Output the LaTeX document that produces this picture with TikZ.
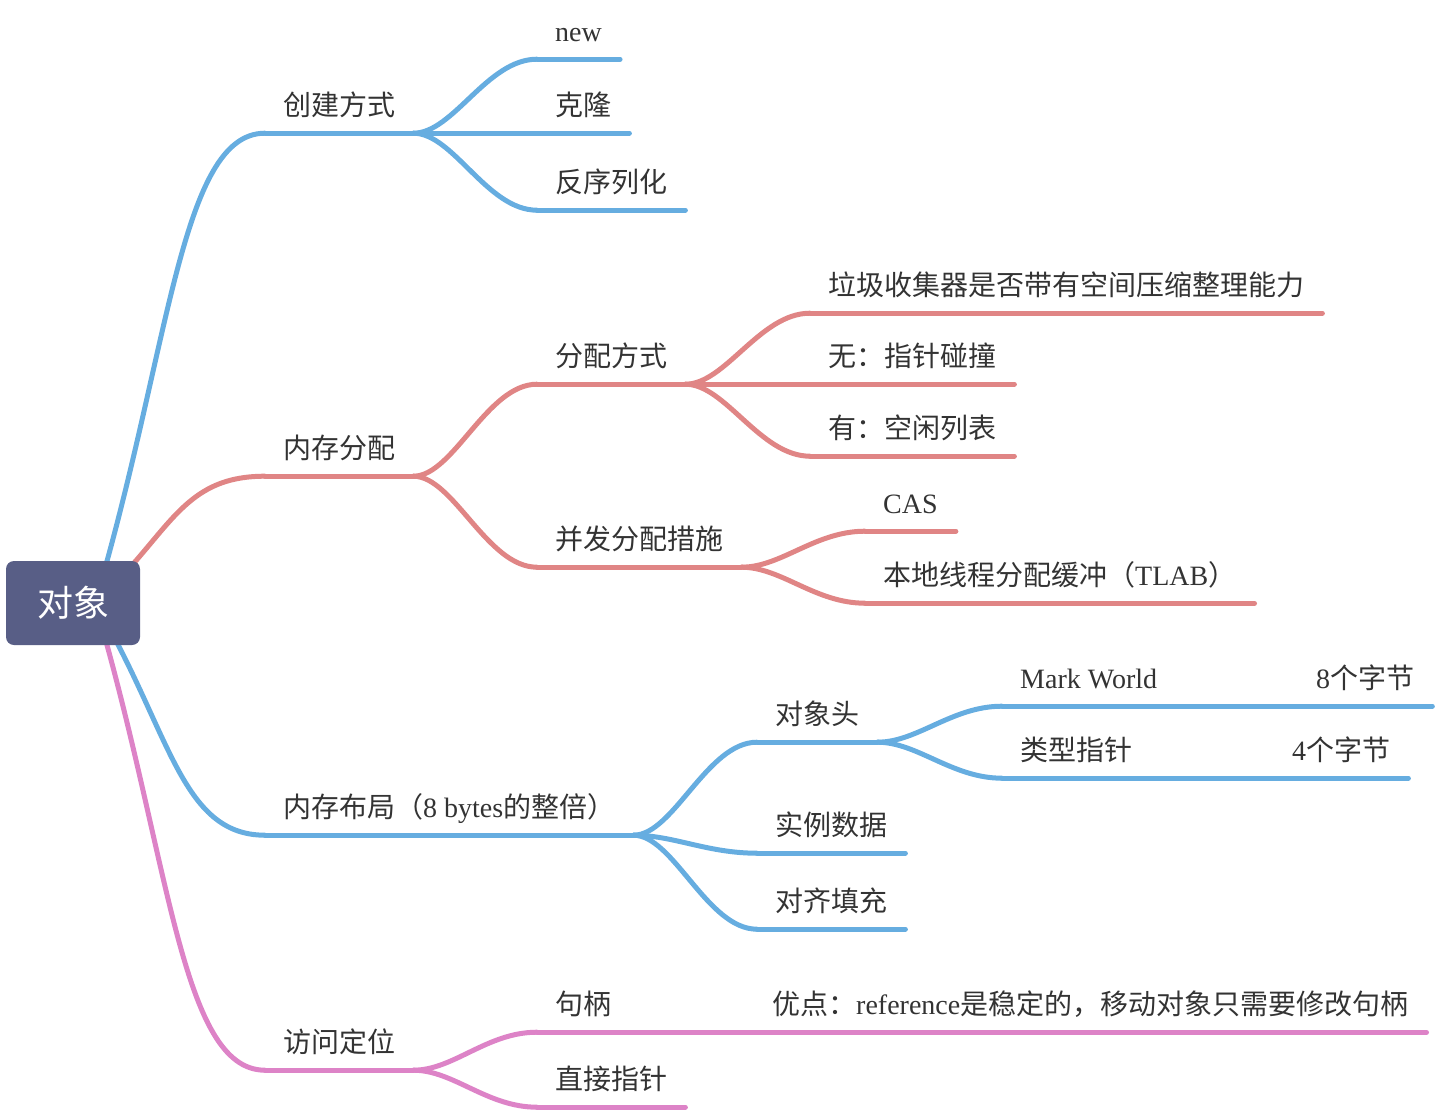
\documentclass[tikz,border=0pt]{standalone}
\usepackage{fontspec}
\setmainfont{Liberation Serif}
\newfontfamily\cjk{Noto Sans CJK SC}
\usepackage{tikz}
\usetikzlibrary{backgrounds}
\definecolor{lineblue}{HTML}{66ADE0}
\definecolor{linered}{HTML}{E08585}
\definecolor{linepink}{HTML}{DD83C7}
\definecolor{rootfill}{HTML}{585E86}
\definecolor{txtgray}{HTML}{333333}
\newcommand{\lat}[1]{{\rmfamily #1}}
\begin{document}
\begin{tikzpicture}[x=1pt,y=-1pt]
\tikzstyle{topic}=[anchor=base west, inner xsep=18pt, inner ysep=17pt, text depth=0pt, text=txtgray, font={\cjk\fontsize{28}{32}\selectfont}]
\tikzstyle{branch}=[line width=5pt, line cap=round]
\useasboundingbox (0,0) rectangle (1438,1112);
% root
\node [fill=rootfill, rounded corners=8pt, minimum width=134pt, minimum height=84pt, text=white, font={\cjk\fontsize{36}{40}\selectfont}] (root) at (73,603) {对象};
% level 1
\node [topic] (create) at (265,115) {创建方式};
\node [topic] (alloc) at (265,458) {内存分配};
\node [topic] (layout) at (265,817) {内存布局（\lat{8 bytes}的整倍）};
\node [topic] (access) at (265,1052) {访问定位};
% level 2
\node [topic] (cnew) at (537,41) {\lat{new}};
\node [topic] (clone) at (537,115) {克隆};
\node [topic] (deser) at (537,192) {反序列化};
\node [topic] (amode) at (537,366) {分配方式};
\node [topic] (conc) at (537,549) {并发分配措施};
\node [topic] (header) at (757,724) {对象头};
\node [topic] (inst) at (757,835) {实例数据};
\node [topic] (pad) at (757,911) {对齐填充};
\node [topic] (handle) at (537,1014) {句柄\hspace{161pt}优点：\lat{reference}是稳定的，移动对象只需要修改句柄};
\node [topic] (direct) at (537,1089) {直接指针};
% level 3
\node [topic] (gcq) at (810,295) {垃圾收集器是否带有空间压缩整理能力};
\node [topic] (bump) at (810,366) {无：指针碰撞};
\node [topic] (freel) at (810,438) {有：空闲列表};
\node [topic] (cas) at (865,513) {\lat{CAS}};
\node [topic] (tlab) at (865,585) {本地线程分配缓冲（\lat{TLAB}）};
\node [topic] (mark) at (1002,688) {\lat{Mark World}\hspace{159pt}\lat{8}个字节};
\node [topic] (klass) at (1002,760) {类型指针\hspace{160pt}\lat{4}个字节};
\begin{scope}[on background layer]
% root connectors
\draw [branch, lineblue] ([xshift=22pt]root.center) .. controls +(75,-252) and +(-85,0) .. ([yshift=-1pt]create.south west);
\draw [branch, linered] ([xshift=22pt]root.center) .. controls +(75,-68) and +(-85,0) .. ([yshift=-1pt]alloc.south west);
\draw [branch, lineblue] ([xshift=22pt]root.center) .. controls +(75,126) and +(-85,0) .. ([yshift=-1pt]layout.south west);
\draw [branch, linepink] ([xshift=22pt]root.center) .. controls +(75,253) and +(-85,0) .. ([yshift=-1pt]access.south west);
\end{scope}
% underlines
\draw [branch, lineblue] ([yshift=-1pt]create.south west) -- ([yshift=-1pt]create.south east);
\draw [branch, linered] ([yshift=-1pt]alloc.south west) -- ([yshift=-1pt]alloc.south east);
\draw [branch, lineblue] ([yshift=-1pt]layout.south west) -- ([yshift=-1pt]layout.south east);
\draw [branch, linepink] ([yshift=-1pt]access.south west) -- ([yshift=-1pt]access.south east);
\draw [branch, lineblue] ([yshift=-1pt]cnew.south west) -- ([yshift=-1pt]cnew.south east);
\draw [branch, lineblue] ([yshift=-1pt]clone.south west) -- ([yshift=-1pt]clone.south east);
\draw [branch, lineblue] ([yshift=-1pt]deser.south west) -- ([yshift=-1pt]deser.south east);
\draw [branch, linered] ([yshift=-1pt]amode.south west) -- ([yshift=-1pt]amode.south east);
\draw [branch, linered] ([yshift=-1pt]conc.south west) -- ([yshift=-1pt]conc.south east);
\draw [branch, lineblue] ([yshift=-1pt]header.south west) -- ([yshift=-1pt]header.south east);
\draw [branch, lineblue] ([yshift=-1pt]inst.south west) -- ([yshift=-1pt]inst.south east);
\draw [branch, lineblue] ([yshift=-1pt]pad.south west) -- ([yshift=-1pt]pad.south east);
\draw [branch, linepink] ([yshift=-1pt]handle.south west) -- ([yshift=-1pt]handle.south east);
\draw [branch, linepink] ([yshift=-1pt]direct.south west) -- ([yshift=-1pt]direct.south east);
\draw [branch, linered] ([yshift=-1pt]gcq.south west) -- ([yshift=-1pt]gcq.south east);
\draw [branch, linered] ([yshift=-1pt]bump.south west) -- ([yshift=-1pt]bump.south east);
\draw [branch, linered] ([yshift=-1pt]freel.south west) -- ([yshift=-1pt]freel.south east);
\draw [branch, linered] ([yshift=-1pt]cas.south west) -- ([yshift=-1pt]cas.south east);
\draw [branch, linered] ([yshift=-1pt]tlab.south west) -- ([yshift=-1pt]tlab.south east);
\draw [branch, lineblue] ([yshift=-1pt]mark.south west) -- ([yshift=-1pt]mark.south east);
\draw [branch, lineblue] ([yshift=-1pt]klass.south west) -- ([yshift=-1pt]klass.south east);
% forks
\draw [branch, lineblue] ([yshift=-1pt]create.south east) .. controls +(40,0) and +(-50,0) .. ([yshift=-1pt]cnew.south west);
\draw [branch, lineblue] ([yshift=-1pt]create.south east) -- ([yshift=-1pt]clone.south west);
\draw [branch, lineblue] ([yshift=-1pt]create.south east) .. controls +(40,0) and +(-50,0) .. ([yshift=-1pt]deser.south west);
\draw [branch, linered] ([yshift=-1pt]alloc.south east) .. controls +(40,0) and +(-50,0) .. ([yshift=-1pt]amode.south west);
\draw [branch, linered] ([yshift=-1pt]alloc.south east) .. controls +(40,0) and +(-50,0) .. ([yshift=-1pt]conc.south west);
\draw [branch, linered] ([yshift=-1pt]amode.south east) .. controls +(40,0) and +(-50,0) .. ([yshift=-1pt]gcq.south west);
\draw [branch, linered] ([yshift=-1pt]amode.south east) -- ([yshift=-1pt]bump.south west);
\draw [branch, linered] ([yshift=-1pt]amode.south east) .. controls +(40,0) and +(-50,0) .. ([yshift=-1pt]freel.south west);
\draw [branch, linered] ([yshift=-1pt]conc.south east) .. controls +(40,0) and +(-50,0) .. ([yshift=-1pt]cas.south west);
\draw [branch, linered] ([yshift=-1pt]conc.south east) .. controls +(40,0) and +(-50,0) .. ([yshift=-1pt]tlab.south west);
\draw [branch, lineblue] ([yshift=-1pt]layout.south east) .. controls +(40,0) and +(-50,0) .. ([yshift=-1pt]header.south west);
\draw [branch, lineblue] ([yshift=-1pt]layout.south east) .. controls +(40,0) and +(-50,0) .. ([yshift=-1pt]inst.south west);
\draw [branch, lineblue] ([yshift=-1pt]layout.south east) .. controls +(40,0) and +(-50,0) .. ([yshift=-1pt]pad.south west);
\draw [branch, lineblue] ([yshift=-1pt]header.south east) .. controls +(40,0) and +(-50,0) .. ([yshift=-1pt]mark.south west);
\draw [branch, lineblue] ([yshift=-1pt]header.south east) .. controls +(40,0) and +(-50,0) .. ([yshift=-1pt]klass.south west);
\draw [branch, linepink] ([yshift=-1pt]access.south east) .. controls +(40,0) and +(-50,0) .. ([yshift=-1pt]handle.south west);
\draw [branch, linepink] ([yshift=-1pt]access.south east) .. controls +(40,0) and +(-50,0) .. ([yshift=-1pt]direct.south west);
\end{tikzpicture}
\end{document}
